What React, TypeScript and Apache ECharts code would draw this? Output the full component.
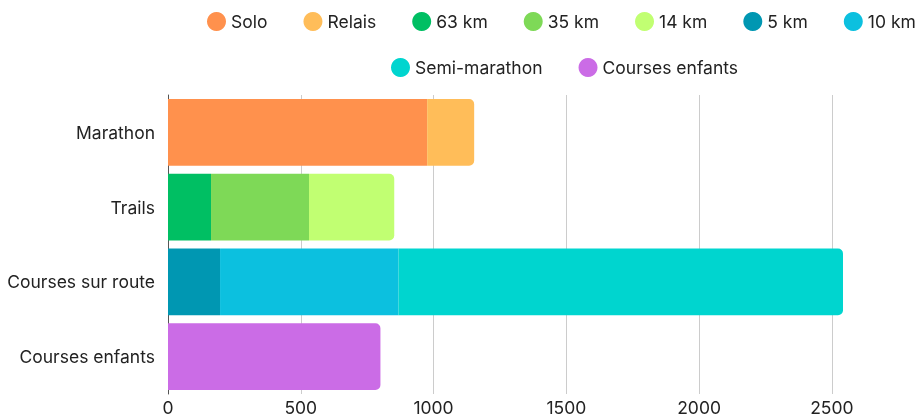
import React, { useEffect, useRef } from "react";
import * as echarts from "echarts";

const categories = ["Marathon", "Trails", "Courses sur route", "Courses enfants"];
const seriesNames = ["Solo", "Relais", "63 km", "35 km", "14 km", "5 km", "10 km", "Semi-marathon", "Courses enfants"];
// category index each series belongs to
const seriesCategory = [0, 0, 1, 1, 1, 2, 2, 2, 3];
const seriesValues = [976, 177, 162, 369, 321, 196, 672, 1674, 800];
const seriesColors = ["#FF914D", "#FFBD59", "#00BF63", "#7ED957", "#C1FF72", "#0097B2", "#0CC0DF", "#00D5CF", "#CB6CE6"];
const xTicks = [0, 500, 1000, 1500, 2000, 2500];

export default function App() {
  const ref = useRef<HTMLDivElement>(null);
  useEffect(() => {
    if (!ref.current) return;
    const chart = echarts.init(ref.current, undefined, { renderer: "svg" });
    const lastIdx: Record<number, number> = {};
    seriesCategory.forEach((c, i) => (lastIdx[c] = i));
    const series = seriesNames.map((name, i) => {
      const data = categories.map((_, ci) => (ci === seriesCategory[i] ? seriesValues[i] : "-"));
      const isLast = lastIdx[seriesCategory[i]] === i;
      return {
        name,
        type: "bar",
        stack: "total",
        barCategoryGap: "11%",
        data,
        itemStyle: {
          color: seriesColors[i],
          borderRadius: isLast ? [0, 5, 5, 0] : 0,
        },
      };
    });
    const legendText = { fontSize: 17.5, color: "#222", fontFamily: "Inter" };
    chart.setOption({
      animation: false,
      textStyle: { fontFamily: "Inter" },
      legend: [
        {
          data: seriesNames.slice(0, 7),
          left: 202,
          top: 7,
          icon: "circle",
          itemWidth: 19,
          itemHeight: 19,
          itemGap: 36,
          textStyle: legendText,
        },
        {
          data: seriesNames.slice(7),
          left: 386,
          top: 53,
          icon: "circle",
          itemWidth: 19,
          itemHeight: 19,
          itemGap: 36,
          textStyle: legendText,
        },
      ],
      grid: { left: 168, right: 80, top: 95, bottom: 20, containLabel: false },
      xAxis: {
        type: "value",
        min: xTicks[0],
        max: "dataMax",
        interval: xTicks[1] - xTicks[0],
        axisLine: { show: false },
        axisTick: { show: false },
        axisLabel: {
          fontSize: 17.5,
          color: "#222",
          margin: 4,
          showMaxLabel: false,
          formatter: (v: number) => String(v),
        },
        splitLine: { show: true, showMaxLine: false, lineStyle: { color: "#cccccc", width: 1 } },
      },
      yAxis: {
        type: "category",
        data: categories,
        inverse: true,
        axisLine: { show: true, lineStyle: { color: "#555", width: 1 } },
        axisTick: { show: false },
        axisLabel: { fontSize: 17.5, color: "#222", margin: 13 },
      },
      series,
    });
    return () => chart.dispose();
  }, []);
  return <div ref={ref} style={{ position: "fixed", left: 0, top: 0, width: 923, height: 416 }} />;
}
